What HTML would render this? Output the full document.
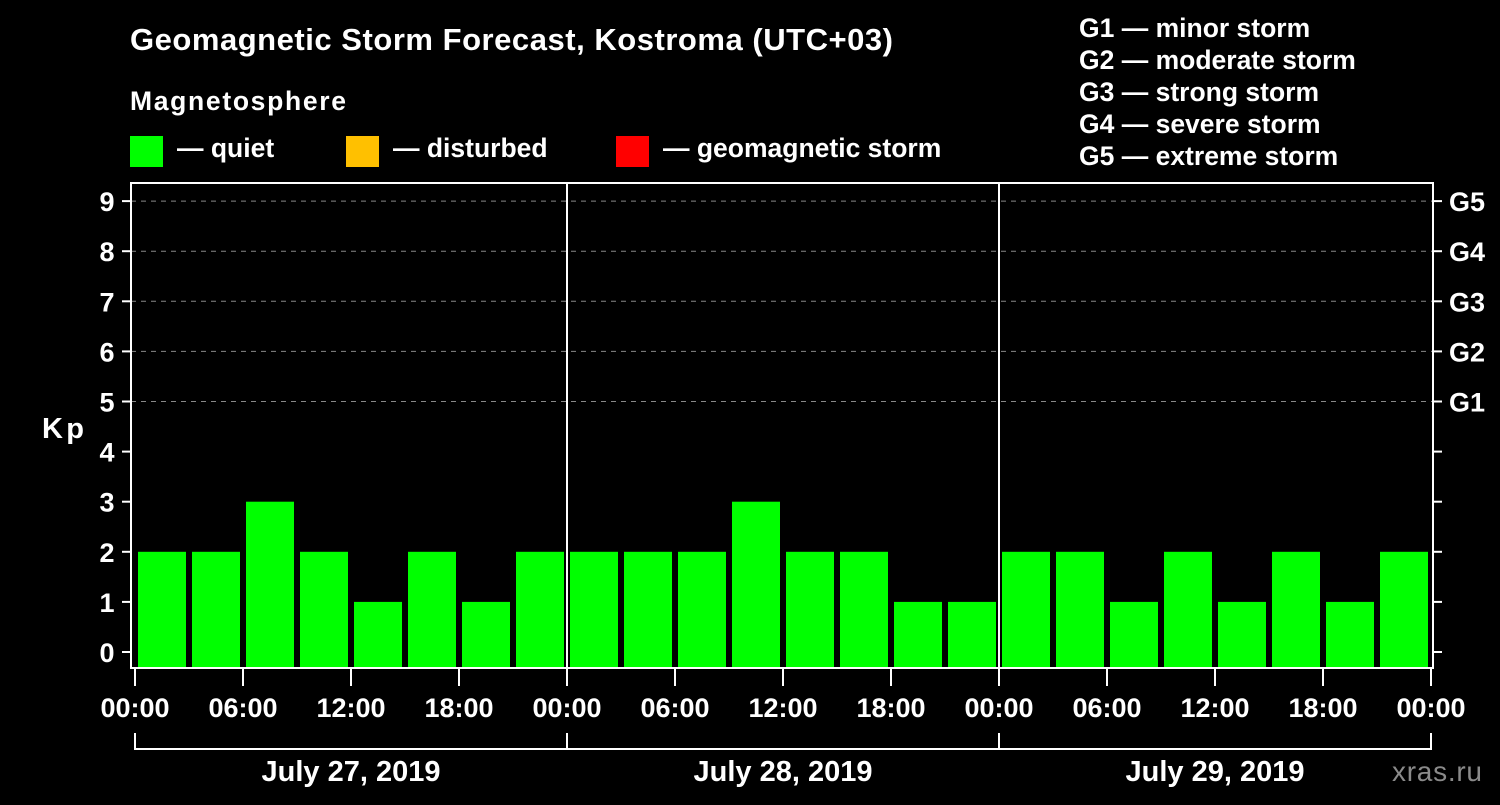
<!DOCTYPE html>
<html><head><meta charset="utf-8"><style>
body{margin:0;background:#000;}
svg text{font-family:"Liberation Sans",Arial,sans-serif;font-weight:bold;fill:#fff;}
</style></head><body>
<svg id="c" width="1500" height="800" xmlns="http://www.w3.org/2000/svg">
<rect width="1500" height="800" fill="#000"/>
<text x="130" y="50" font-size="31" textLength="763">Geomagnetic Storm Forecast, Kostroma (UTC+03)</text>
<text x="130" y="110" font-size="26.5" textLength="216">Magnetosphere</text>
<g><rect x="130" y="136" width="33" height="31" fill="#00ff00"/><text x="177" y="157" font-size="26.5">— quiet</text></g>
<g><rect x="346" y="136" width="33" height="31" fill="#ffc000"/><text x="393" y="157" font-size="26.5">— disturbed</text></g>
<g><rect x="616" y="136" width="33" height="31" fill="#ff0000"/><text x="663" y="157" font-size="26.5">— geomagnetic storm</text></g>
<g font-size="26.5">
<text x="1079" y="37">G1 — minor storm</text><text x="1079" y="69">G2 — moderate storm</text><text x="1079" y="101">G3 — strong storm</text><text x="1079" y="133">G4 — severe storm</text><text x="1079" y="165">G5 — extreme storm</text></g>
<text x="42" y="438" font-size="29" textLength="42">Kp</text>
<text x="1392" y="781" font-size="28" textLength="90" style="fill:#8a8a8a;font-weight:normal">xras.ru</text>
<g id="gridG"></g><g id="barsG"></g><g id="axesG"></g>
</svg>
<script>
const kpValues=[2,2,3,2,1,2,1,2, 2,2,2,3,2,2,1,1, 2,2,1,2,1,2,1,2];
const dayLabels=["July 27, 2019","July 28, 2019","July 29, 2019"];
const hourLabels=["00:00","06:00","12:00","18:00"];
const gLabels=["G1","G2","G3","G4","G5"];
const NS="http://www.w3.org/2000/svg";
const x0=135,pxH=18,pLeft=131,pRight=1433,pTop=183,pBottom=668;
const yS=k=>652-50.1*k;
const xh=h=>x0+h*pxH;
function mk(t,a,p){const e=document.createElementNS(NS,t);for(const k in a)e.setAttribute(k,a[k]);p.appendChild(e);return e;}
const gridG=document.getElementById('gridG'),barsG=document.getElementById('barsG'),axesG=document.getElementById('axesG');
for(let k=5;k<=9;k++){const l=mk('line',{x1:pLeft,x2:pRight,y1:yS(k),y2:yS(k),stroke:'#888','stroke-dasharray':'5,5','stroke-width':1},gridG);

}
kpValues.forEach((v,i)=>{const col=v>=5?'#ff0000':(v>=4?'#ffc000':'#00ff00');
const r=mk('rect',{x:xh(i*3)+3,y:yS(v),width:48,height:pBottom-yS(v),fill:col},barsG);

});
const frame=mk('rect',{x:pLeft,y:pTop,width:pRight-pLeft,height:pBottom-pTop,fill:'none',stroke:'#fff','stroke-width':2},axesG);


for(let d=1;d<dayLabels.length;d++){const l=mk('line',{x1:xh(d*24),x2:xh(d*24),y1:pTop,y2:pBottom,stroke:'#fff','stroke-width':2},axesG);

}
for(let k=0;k<=9;k++){mk('line',{x1:122,x2:pLeft,y1:yS(k),y2:yS(k),stroke:'#fff','stroke-width':2},axesG);
mk('line',{x1:pRight,x2:1442,y1:yS(k),y2:yS(k),stroke:'#fff','stroke-width':2},axesG);
const t=mk('text',{x:107,y:yS(k)+10,'font-size':27,'text-anchor':'middle'},axesG);t.textContent=k;

}
gLabels.forEach((g,i)=>{const t=mk('text',{x:1449,y:yS(5+i)+10,'font-size':27},axesG);t.textContent=g;

});
for(let h=0;h<=72;h+=6){mk('line',{x1:xh(h),x2:xh(h),y1:pBottom,y2:686,stroke:'#fff','stroke-width':2},axesG);
const t=mk('text',{x:xh(h),y:717,'font-size':27,'text-anchor':'middle'},axesG);t.textContent=hourLabels[(h/6)%4];

}
dayLabels.forEach((d,i)=>{const a=xh(i*24),b=xh(i*24+24);
const p=mk('path',{d:`M${a},733V749H${b}V733`,fill:'none',stroke:'#fff','stroke-width':2},axesG);


const t=mk('text',{x:(a+b)/2,y:781,'font-size':29,'text-anchor':'middle'},axesG);t.textContent=d;

});
</script>
</body></html>
